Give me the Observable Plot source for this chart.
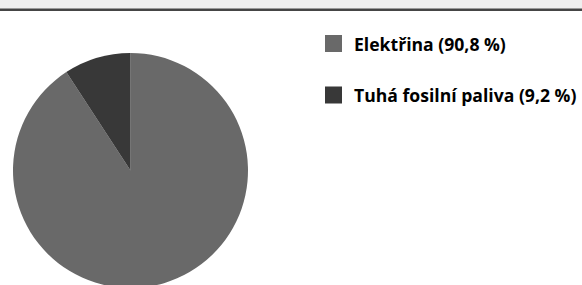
<!DOCTYPE html>
<html>
<head>
<meta charset="utf-8">
<script src="https://cdn.jsdelivr.net/npm/d3@7"></script>
<script src="https://cdn.jsdelivr.net/npm/@observablehq/plot@0.6"></script>
<style>
  html, body { margin: 0; padding: 0; background: #fff; overflow: hidden; }
  #band { height: 8px; background: #efefef; }
  #line1 { height: 1px; background: #9a9a9a; }
  #line2 { height: 2px; background: #454545; }
  svg { display: block; }
</style>
</head>
<body>
<div id="band"></div><div id="line1"></div><div id="line2"></div>
<div id="chart"></div>
<script>
const categories = ["Elektřina", "Tuhá fosilní paliva"];
const values = [90.8, 9.2];
const labels = ["Elektřina (90,8 %)", "Tuhá fosilní paliva (9,2 %)"];
const colors = ["#696969", "#383838"];

const data = categories.map((c, i) => ({category: c, value: values[i], label: labels[i]}));
const color = Plot.scale({color: {type: "ordinal", domain: categories, range: colors}});

function pieMark() {
  const g = d3.create("svg:g");
  const cx = 130.5, cy = 159.5, r = 117.5;
  const arcs = d3.pie().sort(null).value(d => d.value)(data);
  const arc = d3.arc().innerRadius(0).outerRadius(r);
  g.append("g").attr("transform", `translate(${cx},${cy})`)
    .selectAll("path").data(arcs).join("path")
    .attr("d", arc)
    .attr("fill", d => color.apply(d.data.category));
  const lg = g.append("g").attr("transform", "translate(325,24)");
  const item = lg.selectAll("g").data(data).join("g")
    .attr("transform", (d, i) => `translate(0,${i * 51.5})`);
  item.append("rect").attr("width", 17).attr("height", 17)
    .attr("fill", d => color.apply(d.category));
  item.append("text").attr("x", 29).attr("y", 15.5)
    .attr("text-anchor", "start")
    .attr("font-family", "'Open Sans', sans-serif")
    .attr("font-weight", "bold").attr("font-size", 17.6)
    .attr("fill", "#000")
    .text(d => d.label);
  return g.node();
}

const chart = Plot.plot({
  width: 582,
  height: 274,
  margin: 0,
  style: {background: "#fff", overflow: "visible"},
  marks: [pieMark]
});
document.getElementById("chart").append(chart);
</script>
</body>
</html>
